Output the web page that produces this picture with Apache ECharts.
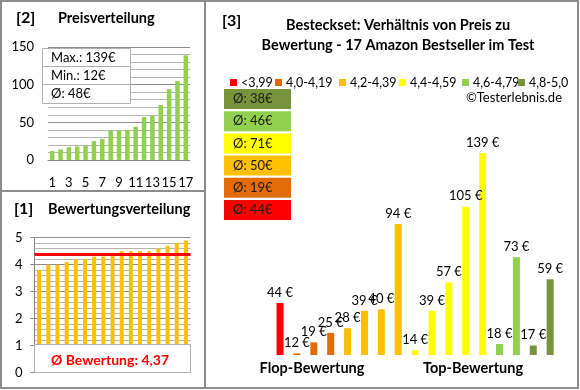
<!DOCTYPE html>
<html><head><meta charset="utf-8">
<script src="https://cdn.jsdelivr.net/npm/echarts@6/dist/echarts.min.js"></script>
<style>html,body{margin:0;padding:0;background:#fff}#c{width:580px;height:390px}</style>
</head><body><div id="c"></div>
<script>
// ---- data ----
const prices = [44, 12, 19, 25, 28, 39, 40, 94, 14, 39, 57, 105, 139, 18, 73, 17, 59];
const barGroup = [0, 1, 1, 1, 2, 2, 2, 2, 3, 3, 3, 3, 3, 4, 4, 5, 5];
const groupNames = ['<3,99', '4,0-4,19', '4,2-4,39', '4,4-4,59', '4,6-4,79', '4,8-5,0'];
const groupColors = ['#FF0000', '#E36C09', '#FFC000', '#FFFF00', '#92D050', '#77933C'];
const groupAvgLabels = ['Ø: 44€', 'Ø: 19€', 'Ø: 50€', 'Ø: 71€', 'Ø: 46€', 'Ø: 38€'];
const sortedPrices = [12, 14, 17, 18, 19, 25, 28, 39, 39, 40, 44, 57, 59, 73, 94, 105, 139];
const priceCats = ['1','2','3','4','5','6','7','8','9','10','11','12','13','14','15','16','17'];
const ratings = [3.8, 4.0, 4.0, 4.1, 4.2, 4.2, 4.3, 4.3, 4.4, 4.5, 4.5, 4.5, 4.5, 4.6, 4.7, 4.8, 4.9];
const ratingMeanLabel = 'Ø Bewertung: 4,37';
const priceTicks = [0, 50, 100, 150];

const FONT = 'Lato, "Open Sans", sans-serif';
const maxP = Math.max(...sortedPrices), minP = Math.min(...sortedPrices);
const meanP = Math.round(sortedPrices.reduce((a, b) => a + b, 0) / sortedPrices.length);
const meanR = ratings.reduce((a, b) => a + b, 0) / ratings.length;

const chart = echarts.init(document.getElementById('c'), null, {renderer: 'canvas'});

const groupSeries = groupNames.map((name, g) => ({
  name, type: 'bar', xAxisIndex: 2, yAxisIndex: 2, stack: 'p', barWidth: 7,
  itemStyle: {color: groupColors[g]}, clip: true,
  data: prices.map((v, i) => barGroup[i] === g ? v : '-'),
  label: {show: true, position: 'top', distance: 4, formatter: '{c} €',
    fontFamily: FONT, fontSize: 13, color: '#000'}
}));

const T = (x, y, text, size, weight, extra) => ({
  type: 'text', x, y, style: Object.assign({text, fontFamily: FONT, fontSize: size, fontWeight: weight,
    fill: '#000', textVerticalAlign: 'middle'}, extra || {})
});

const graphics = [
  {type: 'rect', shape: {x: 1, y: 1, width: 577, height: 387}, style: {fill: 'none', stroke: '#8c8c8c', lineWidth: 2}},
  {type: 'line', shape: {x1: 205, y1: 1, x2: 205, y2: 388}, style: {stroke: '#8c8c8c', lineWidth: 2}},
  {type: 'line', shape: {x1: 1, y1: 191, x2: 205, y2: 191}, style: {stroke: '#8c8c8c', lineWidth: 2}},
  T(16, 18, '[2]', 16, 'bold'), T(58, 18, 'Preisverteilung', 14.5, 'bold'),
  T(14, 209, '[1]', 16, 'bold'), T(48, 209, 'Bewertungsverteilung', 14.5, 'bold'),
  T(222, 21, '[3]', 16, 'bold'),
  T(398, 25, 'Besteckset: Verhältnis von Preis zu', 14.5, 'bold', {textAlign: 'center'}),
  T(398, 45, 'Bewertung - 17 Amazon Bestseller im Test', 14.5, 'bold', {textAlign: 'center'}),
  T(562, 98, '©Testerlebnis.de', 13, 'normal', {textAlign: 'right'}),
  T(312, 368, 'Flop-Bewertung', 14.5, 'bold', {textAlign: 'center'}),
  T(473, 368, 'Top-Bewertung', 14.5, 'bold', {textAlign: 'center'}),
  // stats box panel 2
  {type: 'rect', z: 10, shape: {x: 42.5, y: 48.5, width: 88, height: 55}, style: {fill: '#fff', stroke: '#b0b0b0', lineWidth: 1}},
  {type: 'line', z: 10, shape: {x1: 42.5, y1: 66.5, x2: 130.5, y2: 66.5}, style: {stroke: '#b0b0b0'}},
  {type: 'line', z: 10, shape: {x1: 42.5, y1: 84.5, x2: 130.5, y2: 84.5}, style: {stroke: '#b0b0b0'}},
  Object.assign(T(51, 58, 'Max.: ' + maxP + '€', 13, 'normal'), {z: 11}),
  Object.assign(T(51, 76, 'Min.: ' + minP + '€', 13, 'normal'), {z: 11}),
  Object.assign(T(51, 94, 'Ø: ' + meanP + '€', 13, 'normal'), {z: 11}),
  // rating box panel 1
  {type: 'rect', z: 10, shape: {x: 34.5, y: 344.5, width: 156, height: 28}, style: {fill: '#fff', stroke: '#b0b0b0', lineWidth: 1}},
  Object.assign(T(110, 360, ratingMeanLabel, 14, 'bold', {fill: '#FF0000', textAlign: 'center'}), {z: 11})
];
// average boxes (top: highest group)
for (let k = 0; k < 6; k++) {
  const g = 5 - k;
  const y = 89 + k * 22.2;
  graphics.push({type: 'rect', shape: {x: 224, y, width: 67, height: 20}, style: {fill: groupColors[g]}});
  graphics.push(T(233, y + 10, groupAvgLabels[g], 13, 'normal', {fill: '#1a1a1a'}));
}

const legendLeft = [225, 270, 334, 394, 457, 513];
const legends = groupNames.map((n, i) => ({
  data: [n], left: legendLeft[i], top: 71, icon: 'rect', itemWidth: 7, itemHeight: 7, itemGap: 0,
  selectedMode: false, textStyle: {fontFamily: FONT, fontSize: 12.5, color: '#000', padding: [0, 0, 0, -1]}
}));

const option = {
  animation: false,
  textStyle: {fontFamily: FONT},
  grid: [
    {left: 48, top: 47, width: 142, height: 113},
    {left: 34.5, top: 237.7, width: 156, height: 135},
    {left: 271.6, top: 120, width: 287, height: 235}
  ],
  legend: legends,
  xAxis: [
    {gridIndex: 0, type: 'category', data: priceCats, axisTick: {show: false},
      axisLine: {lineStyle: {color: '#868686'}},
      axisLabel: {interval: 1, margin: 16, fontSize: 13, color: '#000', fontFamily: FONT}},
    {gridIndex: 1, type: 'category', data: priceCats, axisTick: {show: false}, axisLabel: {show: false},
      axisLine: {lineStyle: {color: '#868686'}}},
    {gridIndex: 2, type: 'category', data: priceCats, show: false}
  ],
  yAxis: [
    {gridIndex: 0, type: 'value', min: priceTicks[0], max: priceTicks[priceTicks.length - 1], interval: 50,
      axisLine: {show: false}, axisTick: {show: false},
      axisLabel: {fontSize: 13, color: '#000', margin: 14, fontFamily: FONT},
      splitLine: {lineStyle: {color: '#8c8c8c'}},
      minorTick: {show: false, splitNumber: 5},
      minorSplitLine: {show: true, lineStyle: {color: '#b4b4b4'}}},
    {gridIndex: 1, type: 'value', min: 0, max: 5, interval: 1,
      axisLine: {show: true, lineStyle: {color: '#868686'}}, axisTick: {show: true, length: 4, lineStyle: {color: '#868686'}},
      axisLabel: {fontSize: 13, color: '#000', margin: 12, fontFamily: FONT},
      splitLine: {lineStyle: {color: '#8c8c8c'}},
      minorTick: {show: false, splitNumber: 5},
      minorSplitLine: {show: true, lineStyle: {color: '#b4b4b4'}}},
    {gridIndex: 2, type: 'value', min: 11, max: 160, show: false, splitLine: {show: false}}
  ],
  series: [
    {type: 'bar', xAxisIndex: 0, yAxisIndex: 0, barWidth: 4.5, data: sortedPrices, itemStyle: {color: '#92D050'}},
    {type: 'bar', xAxisIndex: 1, yAxisIndex: 1, barWidth: 4, data: ratings, itemStyle: {color: '#FFC000'},
      markLine: {silent: true, symbol: 'none', label: {show: false},
        lineStyle: {color: '#FF0000', width: 3, type: 'solid'}, data: [{yAxis: meanR}]}},
    ...groupSeries
  ],
  graphic: graphics
};
chart.setOption(option);
</script></body></html>
